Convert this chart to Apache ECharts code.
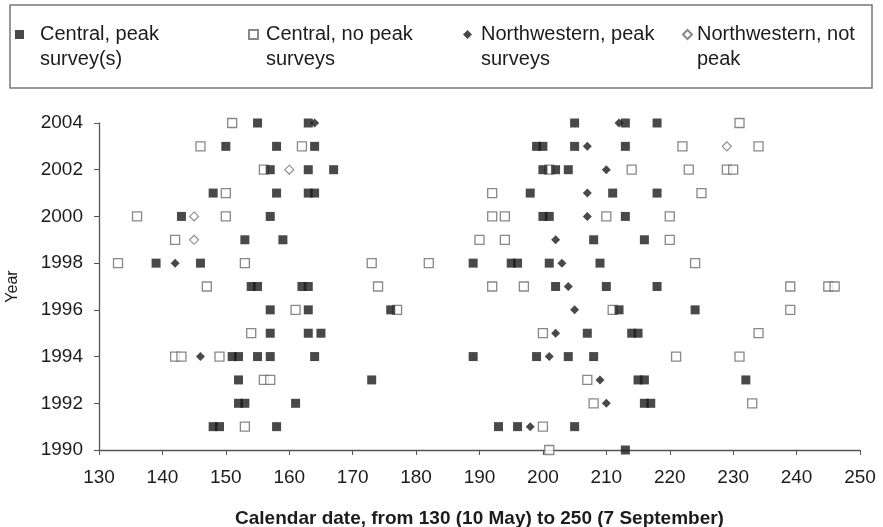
<!DOCTYPE html>
<html>
<head>
    <meta charset="utf-8">
    <title>ECharts</title>
    <script src="https://cdn.jsdelivr.net/npm/echarts@6/dist/echarts.min.js"></script>
</head>
<body style="margin:0;background:#fff;">
    <div id="main" style="width: 883px;height:527px;"></div>
    <script type="text/javascript">
        // [calendar date, year]
        var centralPeak = [
            [155, 2004], [163, 2004], [205, 2004], [213, 2004], [218, 2004],
            [150, 2003], [158, 2003], [164, 2003], [199, 2003], [200, 2003], [205, 2003], [213, 2003],
            [157, 2002], [163, 2002], [167, 2002], [200, 2002], [202, 2002], [204, 2002],
            [148, 2001], [158, 2001], [163, 2001], [164, 2001], [198, 2001], [211, 2001], [218, 2001],
            [143, 2000], [157, 2000], [200, 2000], [201, 2000], [213, 2000],
            [153, 1999], [159, 1999], [208, 1999], [216, 1999],
            [139, 1998], [146, 1998], [189, 1998], [195, 1998], [196, 1998], [201, 1998], [209, 1998],
            [154, 1997], [155, 1997], [162, 1997], [163, 1997], [202, 1997], [210, 1997], [218, 1997],
            [157, 1996], [163, 1996], [176, 1996], [212, 1996], [224, 1996],
            [157, 1995], [163, 1995], [165, 1995], [207, 1995], [214, 1995], [215, 1995],
            [151, 1994], [152, 1994], [155, 1994], [157, 1994], [164, 1994], [189, 1994], [199, 1994], [204, 1994], [208, 1994],
            [152, 1993], [173, 1993], [215, 1993], [216, 1993], [232, 1993],
            [152, 1992], [153, 1992], [161, 1992], [216, 1992], [217, 1992],
            [148, 1991], [149, 1991], [158, 1991], [193, 1991], [196, 1991], [205, 1991],
            [213, 1990]
        ];
        var centralNoPeak = [
            [151, 2004], [231, 2004],
            [146, 2003], [162, 2003], [222, 2003], [234, 2003],
            [156, 2002], [201, 2002], [214, 2002], [223, 2002], [229, 2002], [230, 2002],
            [150, 2001], [192, 2001], [225, 2001],
            [136, 2000], [150, 2000], [192, 2000], [194, 2000], [210, 2000], [220, 2000],
            [142, 1999], [190, 1999], [194, 1999], [220, 1999],
            [133, 1998], [153, 1998], [173, 1998], [182, 1998], [224, 1998],
            [147, 1997], [174, 1997], [192, 1997], [197, 1997], [239, 1997], [245, 1997], [246, 1997],
            [161, 1996], [177, 1996], [211, 1996], [239, 1996],
            [154, 1995], [200, 1995], [234, 1995],
            [142, 1994], [143, 1994], [149, 1994], [221, 1994], [231, 1994],
            [156, 1993], [157, 1993], [207, 1993],
            [208, 1992], [233, 1992],
            [153, 1991], [200, 1991],
            [201, 1990]
        ];
        var nwPeak = [
            [164, 2004], [212, 2004], [207, 2003], [210, 2002], [207, 2001], [207, 2000],
            [202, 1999], [142, 1998], [203, 1998], [204, 1997], [205, 1996], [202, 1995],
            [146, 1994], [201, 1994], [209, 1993], [210, 1992], [198, 1991]
        ];
        var nwNotPeak = [
            [229, 2003], [160, 2002], [145, 2000], [145, 1999]
        ];
        var seriesNames = ['Central, peak\nsurvey(s)', 'Central, no peak\nsurveys',
            'Northwestern, peak\nsurveys', 'Northwestern, not\npeak'];

        var myChart = echarts.init(document.getElementById('main'));
        var font = 'Liberation Sans, Arial, sans-serif';
        var ink = '#1c1c1c';

        // leading empty line so the icon sits beside the first text line
        function legendAt(left, name, gap) {
            return {
                left: left,
                top: -3,
                padding: 0,
                itemWidth: 9,
                itemHeight: 9,
                itemGap: 0,
                data: [name],
                selectedMode: false,
                formatter: function (n) { return '\n' + n; },
                textStyle: {
                    fontFamily: font,
                    fontSize: 20,
                    color: ink,
                    lineHeight: 25,
                    padding: [0, 0, 0, gap]
                }
            };
        }

        var option = {
            animation: false,
            backgroundColor: '#fff',
            graphic: [{
                type: 'rect',
                shape: { x: 10, y: 5, width: 862, height: 83 },
                style: { fill: 'none', stroke: '#777', lineWidth: 1.5 },
                z: 0
            }],
            legend: [
                legendAt(15, seriesNames[0], 11),
                legendAt(248, seriesNames[1], 3),
                legendAt(463, seriesNames[2], 4),
                legendAt(682, seriesNames[3], 0)
            ],
            grid: {
                left: 99,
                right: 23,
                top: 123,
                bottom: 77,
                outerBoundsMode: 'none'
            },
            xAxis: {
                type: 'value',
                min: 130,
                max: 250,
                interval: 10,
                name: 'Calendar date, from 130 (10 May) to 250 (7 September)',
                nameLocation: 'middle',
                nameGap: 59,
                nameTextStyle: { fontFamily: font, fontSize: 19, fontWeight: 'bold', color: ink },
                axisLine: { lineStyle: { color: '#555', width: 1.3 } },
                axisTick: { length: 5, lineStyle: { color: '#555' } },
                axisLabel: { margin: 18, fontFamily: font, fontSize: 19, color: ink },
                splitLine: { show: false }
            },
            yAxis: {
                type: 'value',
                min: 1990,
                max: 2004,
                interval: 2,
                name: 'Year',
                nameLocation: 'middle',
                nameGap: 78,
                nameTextStyle: { fontFamily: font, fontSize: 16, color: ink },
                axisLine: { show: true, lineStyle: { color: '#555', width: 1.3 } },
                axisTick: { show: true, length: 5, lineStyle: { color: '#555' } },
                axisLabel: {
                    margin: 16, fontFamily: font, fontSize: 19, color: ink,
                    formatter: function (v) { return String(v); }
                },
                splitLine: { show: false }
            },
            series: [
                {
                    name: seriesNames[0],
                    type: 'scatter',
                    symbol: 'rect',
                    symbolSize: 9,
                    itemStyle: { color: ink },
                    data: centralPeak,
                    z: 3
                },
                {
                    name: seriesNames[1],
                    type: 'scatter',
                    symbol: 'rect',
                    symbolSize: 9,
                    itemStyle: { color: '#fff', borderColor: '#6a6a6a', borderWidth: 1.3 },
                    data: centralNoPeak,
                    z: 2
                },
                {
                    name: seriesNames[2],
                    type: 'scatter',
                    symbol: 'diamond',
                    symbolSize: 9,
                    itemStyle: { color: ink },
                    data: nwPeak,
                    z: 4
                },
                {
                    name: seriesNames[3],
                    type: 'scatter',
                    symbol: 'diamond',
                    symbolSize: 9,
                    itemStyle: { color: '#fff', borderColor: '#6a6a6a', borderWidth: 1.1 },
                    data: nwNotPeak,
                    z: 2
                }
            ]
        };

        myChart.setOption(option);
    </script>
</body>
</html>
